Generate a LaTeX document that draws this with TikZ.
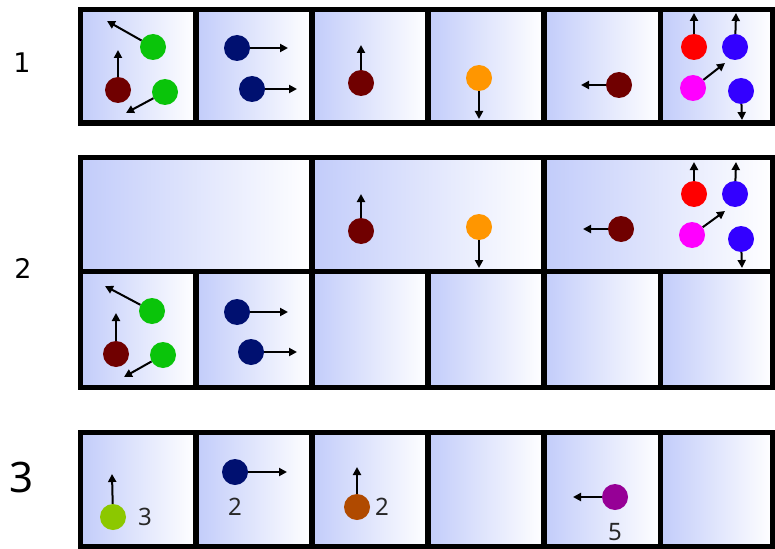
\documentclass[tikz,border=0pt]{standalone}
\usepackage{fontspec}
\setmainfont{DejaVu Sans}
\newfontfamily\numfont{Noto Sans}
\usetikzlibrary{arrows.meta}
\definecolor{cellblue}{RGB}{194,204,250}
\definecolor{cgreen}{RGB}{10,196,10}
\definecolor{cmaroon}{RGB}{112,0,0}
\definecolor{cnavy}{RGB}{0,16,112}
\definecolor{corange}{RGB}{255,150,0}
\definecolor{cred}{RGB}{255,0,0}
\definecolor{cblue}{RGB}{51,0,255}
\definecolor{cmagenta}{RGB}{255,0,255}
\definecolor{clime}{RGB}{140,200,0}
\definecolor{cbrown}{RGB}{176,74,0}
\definecolor{cpurple}{RGB}{150,0,150}
\definecolor{numgray}{RGB}{40,40,40}
\tikzset{
  frame/.style={draw=black,line width=5.5pt},
  cellshade/.style={left color=cellblue,right color=white},
  ball/.style={circle,inner sep=0pt,minimum size=26pt,draw=none},
  vec/.style={draw=black,line width=2pt,-{Triangle[length=8pt,width=8pt]}},
  rowlabel/.style={font=\fontsize{27}{27}\selectfont,inner sep=0pt},
  bignum/.style={font=\numfont\fontsize{42}{42}\selectfont,inner sep=0pt},
  cnum/.style={text=numgray,font=\numfont\fontsize{24}{24}\selectfont,inner sep=0pt}
}
\begin{document}
\begin{tikzpicture}[x=1pt,y=-1pt]
\useasboundingbox (0,0) rectangle (775,548);
% ---------- cells ----------
\def\cellbox#1#2#3#4{\shade[cellshade] (#1,#2) rectangle (#3,#4);\draw[frame] (#1,#2) rectangle (#3,#4);}
% row 1
\foreach \a/\b in {80.5/196,196/312,312/428,428/544,544/660.5,660.5/773}{\cellbox{\a}{9.5}{\b}{123}}
% row 2 top
\foreach \a/\b in {80.5/312,312/544,544/773}{\cellbox{\a}{157.5}{\b}{271.5}}
% row 2 bottom
\foreach \a/\b in {80.5/196,196/312,312/428,428/544,544/660.5,660.5/773}{\cellbox{\a}{271.5}{\b}{387.5}}
% row 3
\foreach \a/\b in {80.5/196,196/312,312/428,428/544,544/660.5,660.5/773}{\cellbox{\a}{432.5}{\b}{546.5}}
% ---------- labels ----------
\node[rowlabel] (l1) at (22,63) {1};
\node[rowlabel] (l2) at (23,268) {2};
\node[bignum] (l3) at (22,477) {3};
% ---------- row 1 ----------
\node[ball,fill=cgreen] (a1) at (153,47) {};
\draw[vec] (a1) -- (107,21);
\node[ball,fill=cmaroon] (a2) at (118,90) {};
\draw[vec] (a2) -- (118,50);
\node[ball,fill=cgreen] (a3) at (165,92) {};
\draw[vec] (a3) -- (126,113);
\node[ball,fill=cnavy] (a4) at (237,48) {};
\draw[vec] (a4) -- (288,48);
\node[ball,fill=cnavy] (a5) at (252,89) {};
\draw[vec] (a5) -- (297,89);
\node[ball,fill=cmaroon] (a6) at (361,83) {};
\draw[vec] (a6) -- (361,45);
\node[ball,fill=corange] (a7) at (479,78) {};
\draw[vec] (a7) -- (479,119);
\node[ball,fill=cmaroon] (a8) at (619,85) {};
\draw[vec] (a8) -- (581,85);
\node[ball,fill=cred] (a9) at (694,47) {};
\draw[vec] (a9) -- (694,13);
\node[ball,fill=cblue] (a10) at (735,47) {};
\draw[vec] (a10) -- (736,13);
\node[ball,fill=cmagenta] (a11) at (693,88) {};
\draw[vec] (a11) -- (725,63);
\node[ball,fill=cblue] (a12) at (741,91) {};
\draw[vec] (a12) -- (742,120);
% ---------- row 2 top ----------
\node[ball,fill=cmaroon] (b1) at (361,231) {};
\draw[vec] (b1) -- (361,194);
\node[ball,fill=corange] (b2) at (479,227) {};
\draw[vec] (b2) -- (479,268);
\node[ball,fill=cmaroon] (b3) at (621,229) {};
\draw[vec] (b3) -- (583,229);
\node[ball,fill=cred] (b4) at (694,194) {};
\draw[vec] (b4) -- (694,162);
\node[ball,fill=cblue] (b5) at (735,194) {};
\draw[vec] (b5) -- (736,162);
\node[ball,fill=cmagenta] (b6) at (692,235) {};
\draw[vec] (b6) -- (725,211);
\node[ball,fill=cblue] (b7) at (741,239) {};
\draw[vec] (b7) -- (742,268);
% ---------- row 2 bottom ----------
\node[ball,fill=cgreen] (c1) at (152,311) {};
\draw[vec] (c1) -- (105,286);
\node[ball,fill=cmaroon] (c2) at (116,354) {};
\draw[vec] (c2) -- (116,313);
\node[ball,fill=cgreen] (c3) at (163,355) {};
\draw[vec] (c3) -- (124,377);
\node[ball,fill=cnavy] (c4) at (237,312) {};
\draw[vec] (c4) -- (288,312);
\node[ball,fill=cnavy] (c5) at (251,352) {};
\draw[vec] (c5) -- (297,352);
% ---------- row 3 ----------
\node[ball,fill=clime] (d1) at (113,517) {};
\draw[vec] (d1) -- (112,474);
\node[cnum] (n1) at (145,517) {3};
\node[ball,fill=cnavy] (d2) at (235,472) {};
\draw[vec] (d2) -- (287,472);
\node[cnum] (n2) at (235,507) {2};
\node[ball,fill=cbrown] (d3) at (357,507) {};
\draw[vec] (d3) -- (357,467);
\node[cnum] (n3) at (382,507) {2};
\node[ball,fill=cpurple] (d4) at (615,497) {};
\draw[vec] (d4) -- (573,497);
\node[cnum] (n4) at (615,532) {5};
\end{tikzpicture}
\end{document}
